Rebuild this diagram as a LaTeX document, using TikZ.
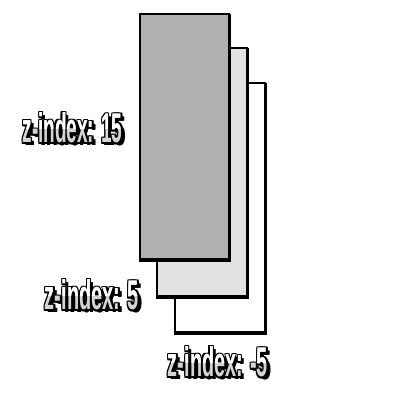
\documentclass[tikz,border=0pt]{standalone}
\usepackage{graphicx}
\usepackage{fontspec}
\setmainfont{Liberation Sans}
\definecolor{frontg}{HTML}{B0B0B0}
\definecolor{midg}{HTML}{E2E2E2}
\definecolor{lightg}{HTML}{D4D4D4}
\tikzset{
  layer/.style={draw=black, line width=2.2pt},
  layershadow/.style={draw=black, line width=2.2pt, fill=black},
  lbl/.style={inner sep=0pt, anchor=center},
}
\newcommand\zt[2]{\resizebox{#1pt}{30pt}{\textbf{#2}}}
\newcommand\zlab[5]{% #1 name, #2 x, #3 y, #4 width, #5 text
  \foreach \dx/\dy in {2.6/-2.6,3.2/-3.2,-1.3/0,1.3/0,0/1.3,0/-1.3,-1.3/1.3,1.3/1.3,-1.3/-1.3,1.3/-1.3}
    \node[lbl,text=black] at (#2+\dx,#3+\dy) {\zt{#4}{#5}};
  \node[lbl,text=lightg] (#1) at (#2,#3) {\zt{#4}{#5}};
  \begin{scope}
    \clip (#2-70,#3-1) rectangle (#2+70,#3+40);
    \node[lbl,text=white] at (#2,#3) {\zt{#4}{#5}};
  \end{scope}
}
\begin{document}
\begin{tikzpicture}[x=1pt,y=1pt]
\useasboundingbox (0,0) rectangle (400,400);
% layers, back to front (each with a slight drop shadow below)
\draw[layershadow] (175.5,66.5) rectangle (265.5,315.5);
\draw[layer, fill=white] (175,68) rectangle (265,317);
\draw[layershadow] (157.5,102.5) rectangle (247.5,350.5);
\draw[layer, fill=midg] (157,104) rectangle (247,352);
\draw[layershadow] (140.5,139.5) rectangle (229.5,384.5);
\draw[layer, fill=frontg] (140,141) rectangle (229,386);
% labels
\zlab{l15}{72.5}{272}{100}{z-index: 15}
\zlab{l5}{92}{105}{94}{z-index: 5}
\zlab{lm5}{218}{38}{100}{z-index: -5}
\end{tikzpicture}
\end{document}
